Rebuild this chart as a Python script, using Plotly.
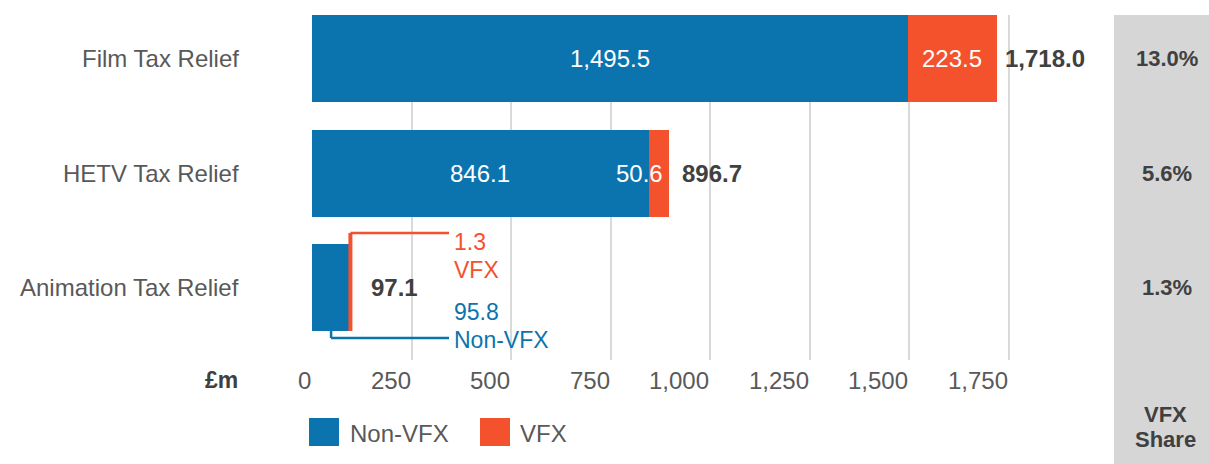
import plotly.graph_objects as go

# ---------------- data ----------------
categories = ["Film Tax Relief", "HETV Tax Relief", "Animation Tax Relief"]
non_vfx = [1495.5, 846.1, 95.8]
vfx = [223.5, 50.6, 1.3]
totals = [1718.0, 896.7, 97.1]
x_ticks = [0, 250, 500, 750, 1000, 1250, 1500, 1750]
x_tick_labels = ["0", "250", "500", "750", "1,000", "1,250", "1,500", "1,750"]
series_names = ["Non-VFX", "VFX"]
unit_label = "£m"
share_title = ["VFX", "Share"]

# ---------------- style ----------------
BLUE = "#0B74AE"
ORANGE = "#F4512D"
GRID = "#D9D9D9"
PANEL = "#D6D6D6"
TXT = "#595959"
BOLD = "#404040"
FONT = "Liberation Sans"
W, H = 1209, 464
ML, MR, MT, MB = 312, 109, 15, 104
PLOT_W = W - ML - MR
PX_PER_UNIT = 697 / 1750
X_MAX = PLOT_W / PX_PER_UNIT
BAR_W = 0.76
Y_RANGE = [2.633, -0.38]
CALLOUT_END = 344
total_shift = [7, 11, 18]

ypos = list(range(len(categories)))

fig = go.Figure()
fig.add_trace(go.Bar(y=ypos, x=non_vfx, orientation="h", name=series_names[0],
                     marker=dict(color=BLUE, line=dict(width=0)), width=BAR_W,
                     showlegend=False, hoverinfo="skip"))
fig.add_trace(go.Bar(y=ypos, x=vfx, orientation="h", name=series_names[1],
                     marker=dict(color=ORANGE, line=dict(width=0)), width=BAR_W,
                     showlegend=False, hoverinfo="skip"))

ann = []
shapes = []

# category labels
for i, c in enumerate(categories):
    ann.append(dict(text=c, xref="paper", x=0, xshift=-71, xanchor="right",
                    yref="y", y=ypos[i], yanchor="middle", showarrow=False,
                    font=dict(family=FONT, size=24, color=TXT)))

# x tick labels (right-aligned to gridlines)
for t, lab in zip(x_ticks, x_tick_labels):
    ann.append(dict(text=lab, xref="x", x=t, xanchor="right", xshift=1,
                    yref="paper", y=0, yshift=-20, yanchor="middle", showarrow=False,
                    font=dict(family=FONT, size=24, color=TXT)))
ann.append(dict(text="<b>%s</b>" % unit_label, xref="paper", x=0, xshift=-72, xanchor="right",
                yref="paper", y=0, yshift=-20, yanchor="middle", showarrow=False,
                font=dict(family=FONT, size=23, color=BOLD)))

# inside value labels (first two bars)
for i in range(2):
    ann.append(dict(text=f"{non_vfx[i]:,.1f}", xref="x", x=non_vfx[i] / 2, xanchor="center",
                    yref="y", y=ypos[i], yanchor="middle", showarrow=False,
                    font=dict(family=FONT, size=24, color="white")))
ann.append(dict(text=f"{vfx[0]:,.1f}", xref="x", x=non_vfx[0] + vfx[0] / 2, xanchor="center",
                yref="y", y=ypos[0], yanchor="middle", showarrow=False,
                font=dict(family=FONT, size=24, color="white")))
ann.append(dict(text=f"{vfx[1]:,.1f}", xref="x", x=totals[1], xanchor="right", xshift=-4,
                yref="y", y=ypos[1], yanchor="middle", showarrow=False,
                font=dict(family=FONT, size=24, color="white")))

# totals
for i in range(len(categories)):
    ann.append(dict(text=f"<b>{totals[i]:,.1f}</b>", xref="x", x=totals[i], xanchor="left",
                    xshift=total_shift[i], yref="y", y=ypos[i], yanchor="middle",
                    showarrow=False, font=dict(family=FONT, size=24, color=BOLD)))

# callouts for animation bar
a = 2
vx = non_vfx[a] + vfx[a] / 2
bx = non_vfx[a] / 2
bar_top = ypos[a] - BAR_W / 2
bar_bot = ypos[a] + BAR_W / 2
y_or = 1.524
y_bl = 2.441
shapes.append(dict(type="line", xref="x", yref="y", x0=vx, x1=vx, y0=bar_bot, y1=y_or,
                   line=dict(color=ORANGE, width=4)))
shapes.append(dict(type="line", xref="x", yref="y", x0=vx, x1=CALLOUT_END, y0=y_or, y1=y_or,
                   line=dict(color=ORANGE, width=2.5)))
shapes.append(dict(type="line", xref="x", yref="y", x0=bx, x1=bx, y0=bar_bot, y1=y_bl,
                   line=dict(color=BLUE, width=2.5)))
shapes.append(dict(type="line", xref="x", yref="y", x0=bx, x1=CALLOUT_END, y0=y_bl, y1=y_bl,
                   line=dict(color=BLUE, width=2.5)))
for txt, yy, col in [(f"{vfx[a]:,.1f}", 1.603, ORANGE), (series_names[1], 1.847, ORANGE),
                     (f"{non_vfx[a]:,.1f}", 2.214, BLUE), (series_names[0], 2.459, BLUE)]:
    ann.append(dict(text=txt, xref="x", x=CALLOUT_END, xshift=3, xanchor="left",
                    yref="y", y=yy, yanchor="middle", showarrow=False,
                    font=dict(family=FONT, size=23, color=col)))

# right grey panel with share labels
shapes.append(dict(type="rect", xref="paper", yref="paper", xsizemode="pixel", xanchor=1,
                   x0=14, x1=MR + 2, y0=-(MB + 2) / (H - MT - MB), y1=1,
                   fillcolor=PANEL, line=dict(width=0), layer="below"))
for i in range(len(categories)):
    share = vfx[i] / totals[i] * 100
    ann.append(dict(text=f"<b>{share:.1f}%</b>", xref="paper", x=1, xshift=67, xanchor="center",
                    yref="y", y=ypos[i], yanchor="middle", showarrow=False,
                    font=dict(family=FONT, size=22, color=BOLD)))
for k, t in enumerate(share_title):
    ann.append(dict(text=f"<b>{t}</b>", xref="paper", x=1, xshift=65, xanchor="center",
                    yref="paper", y=0, yshift=-54 - 25 * k, yanchor="middle", showarrow=False,
                    font=dict(family=FONT, size=22, color=BOLD)))

# custom legend
leg_x = [-3, 168]
leg_text_x = [36, 206]
for k, (nm, col) in enumerate(zip(series_names, [BLUE, ORANGE])):
    shapes.append(dict(type="rect", xref="paper", yref="paper", xsizemode="pixel",
                       ysizemode="pixel", xanchor=0, yanchor=0,
                       x0=leg_x[k], x1=leg_x[k] + 30, y0=-58, y1=-86,
                       fillcolor=col, line=dict(width=0)))
    ann.append(dict(text=nm, xref="paper", x=0, xshift=leg_text_x[k], xanchor="left",
                    yref="paper", y=0, yshift=-73, yanchor="middle", showarrow=False,
                    font=dict(family=FONT, size=24, color=TXT)))

fig.update_layout(
    width=W, height=H, barmode="stack", bargap=0,
    margin=dict(l=ML, r=MR, t=MT, b=MB, pad=0),
    paper_bgcolor="white", plot_bgcolor="white",
    xaxis=dict(range=[0, X_MAX], tickvals=x_ticks, showticklabels=False, showgrid=True,
               gridcolor=GRID, gridwidth=2, zeroline=False, showline=False, ticks=""),
    yaxis=dict(range=Y_RANGE, showticklabels=False, showgrid=False, zeroline=False,
               showline=False, ticks=""),
    annotations=ann, shapes=shapes, showlegend=False, hovermode=False,
)

fig.write_html("out.html", config={"displayModeBar": False},
               post_script="document.body.style.margin='0';document.body.style.overflow='hidden';")
